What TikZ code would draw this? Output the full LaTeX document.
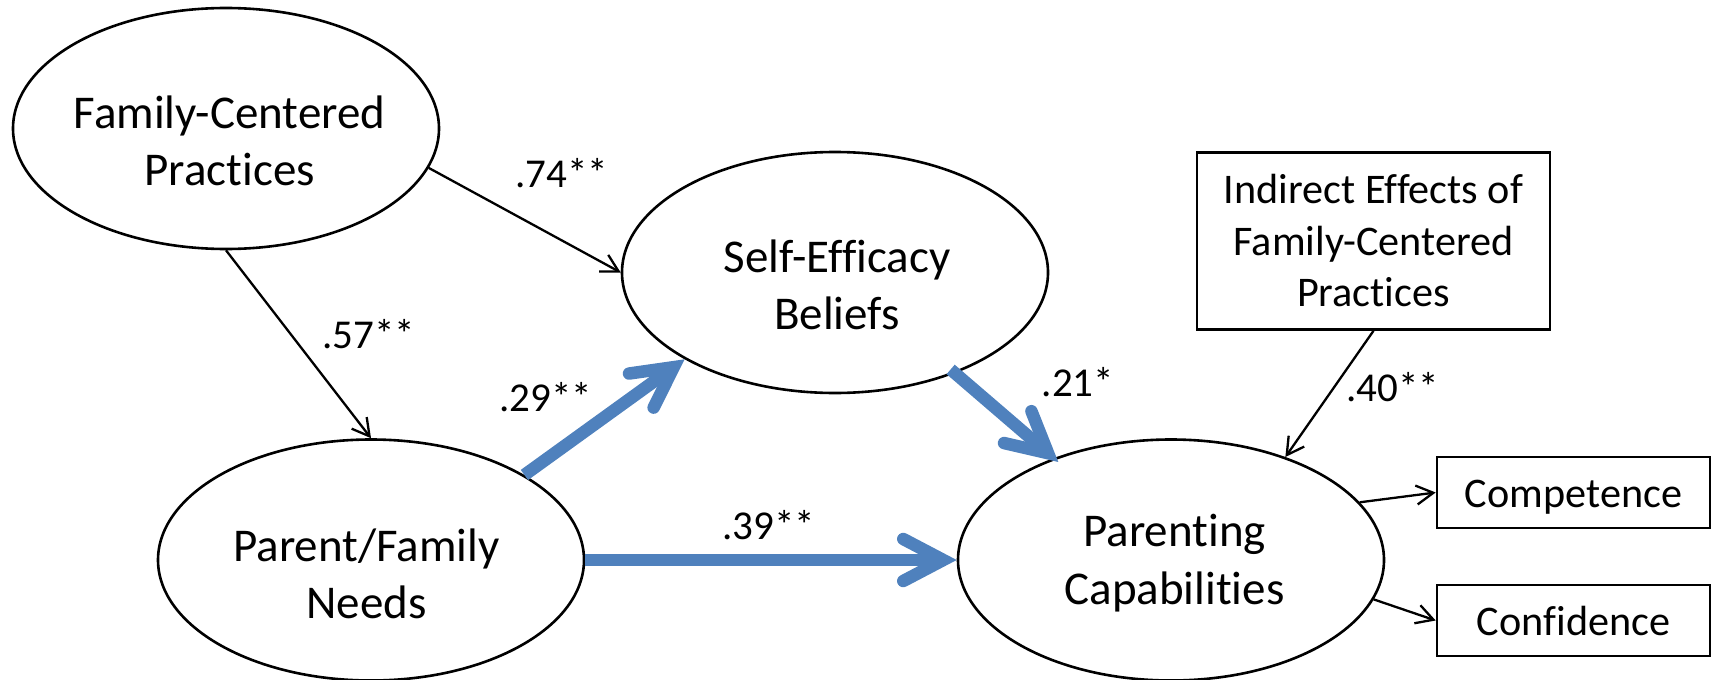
\documentclass[tikz,border=0pt]{standalone}
\usepackage{fontspec}
\setmainfont{Carlito}[Ligatures=NoCommon]
\usetikzlibrary{arrows.meta,shapes.geometric}
\definecolor{arrowblue}{RGB}{79,129,189}
\begin{document}
\begin{tikzpicture}[x=1pt,y=-1pt,
  oval/.style={draw, ellipse, line width=2.6pt, minimum width=426pt, minimum height=241pt, inner sep=0pt},
  vartext/.style={align=center, font=\fontsize{47}{57.3}\selectfont, inner sep=0pt},
  boxnode/.style={draw, rectangle, line width=2.6pt, inner sep=0pt},
  smallbox/.style={boxnode, minimum width=273pt, minimum height=71pt, font=\fontsize{42.2}{51.5}\selectfont, text height=34pt, text depth=4pt},
  coef/.style={font=\fontsize{41}{49}\selectfont, inner sep=0pt},
  thinarrow/.style={line width=2.3pt, -{Straight Barb[length=17pt,width=19pt,line join=miter]}},
  bluearrow/.style={line width=12.5pt, draw=arrowblue, -{Straight Barb[length=40pt,width=42pt,line cap=round,line join=miter]}},
]
\useasboundingbox (0,0) rectangle (1714,680);
% latent variables
\node[oval] (fcp) at (226,128.5) {};
\node[vartext] (fcpt) at (229.6,141) {Family-Centered\\Practices};
\node[oval] (seb) at (835,272.5) {};
\node[vartext] (sebt) at (837,285.2) {Self-Efficacy\\Beliefs};
\node[oval] (pfn) at (371,560) {};
\node[vartext] (pfnt) at (366.5,573.6) {Parent/Family\\Needs};
\node[oval] (pc) at (1171,560) {};
\node[vartext] (pct) at (1174.5,563) {Parenting\\Capabilities};
% boxes
\node[boxnode, minimum width=353pt, minimum height=177pt, align=center, font=\fontsize{42.2}{51.5}\selectfont] (ind) at (1373.5,241) {Indirect Effects of\\Family-Centered\\Practices};
\node[smallbox] (comp) at (1573.5,492.5) {Competence};
\node[smallbox] (conf) at (1573.5,620.5) {Confidence};
% connectors
\draw[thinarrow] (fcp.-11) -- (seb.west);
\draw[thinarrow] (fcp.south) -- (pfn.north);
\draw[bluearrow] (pfn.29) -- (seb.210);
\draw[bluearrow] (pfn.east) -- (pc.west);
\draw[bluearrow, shorten <=-6pt, shorten >=-6pt] (seb.-40) -- (pc.139);
\draw[thinarrow] (ind.south) -- (pc.42);
\draw[thinarrow] (pc.17) -- (comp.west);
\draw[thinarrow] (pc.-11) -- (conf.west);
% coefficients
\node[coef] (l74) at (561.5,173.5) {.74**};
\node[coef] (l57) at (369,334.5) {.57**};
\node[coef] (l29) at (546,397) {.29**};
\node[coef] (l39) at (769,525.5) {.39**};
\node[coef] (l21) at (1078,382.5) {.21*};
\node[coef] (l40) at (1393,387) {.40**};
\end{tikzpicture}
\end{document}
